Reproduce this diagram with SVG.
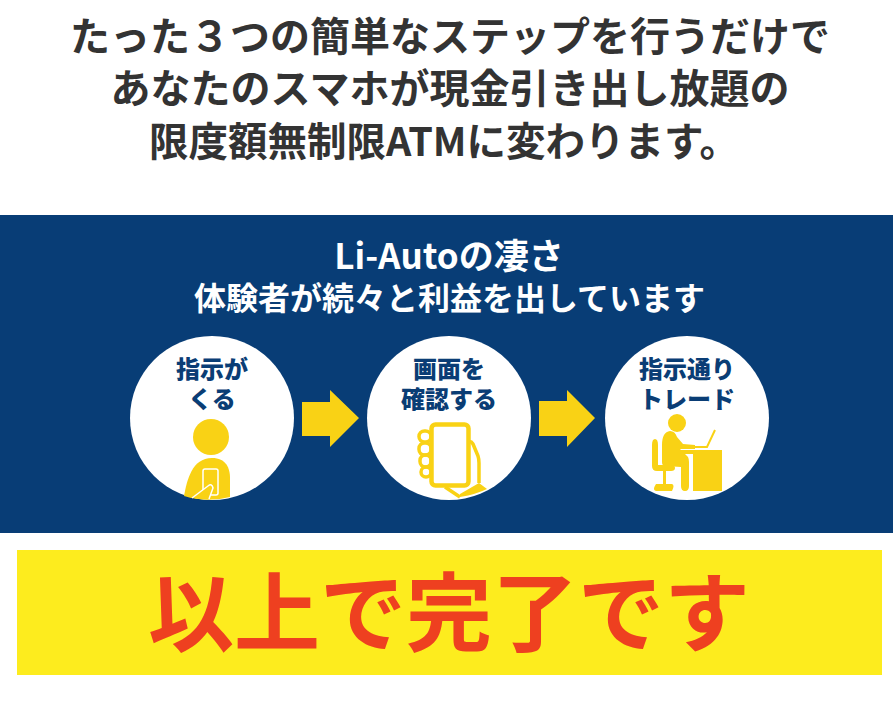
<svg xmlns="http://www.w3.org/2000/svg" width="893" height="710" viewBox="0 0 893 710">
<style>
.h{font-family:"Noto Sans CJK JP","Noto Sans",sans-serif;font-weight:700;font-size:40px;fill:#333;text-anchor:middle}
.w{font-family:"Noto Sans CJK JP","Noto Sans",sans-serif;font-weight:700;font-size:32px;fill:#fff;text-anchor:middle}
.c{font-family:"Noto Sans CJK JP","Noto Sans",sans-serif;font-weight:900;font-size:24px;fill:#0a3d75;text-anchor:middle}
.y{fill:#f9d215}
.n{fill:none;stroke:#f9d215;stroke-width:3.5;stroke-linejoin:round}
</style>
<rect width="893" height="710" fill="#fff"/>
<g id="heading">
<text class="h" x="450" y="51">たった３つの簡単なステップを行うだけで</text>
<text class="h" x="450" y="103">あなたのスマホが現金引き出し放題の</text>
<text class="h" x="444" y="156" style="font-size:39.5px">限度額無制限ATMに変わります。</text>
</g>
<rect id="band" x="0" y="215" width="893" height="318" fill="#083d76"/>
<g id="band-title">
<text class="w" x="449" y="269" style="font-size:35px">Li-Autoの凄さ</text>
<text class="w" x="449.500" y="310">体験者が続々と利益を出しています</text>
</g>
<g id="step1">
<circle cx="212" cy="418" r="82" fill="#fff"/>
<text class="c" x="212" y="378">指示が</text>
<text class="c" x="212" y="408">くる</text>
<circle class="y" cx="211" cy="437" r="18"/>
<path class="y" d="M184 496C187 480 192 458 212 458C226 458 230 468 230 478V497Q207 503 184 496Z"/>
<rect x="203" y="469" width="15" height="26" rx="2" fill="none" stroke="#fff" stroke-width="1.500"/>
<path d="M192 498L208 486Q212 483 213 488L209 499" fill="#f9d215" stroke="#fff" stroke-width="1.500"/>
</g>
<g id="step2">
<circle cx="449" cy="418" r="82" fill="#fff"/>
<text class="c" x="449" y="378">画面を</text>
<text class="c" x="449" y="408">確認する</text>
<path class="y" d="M460 497Q477 494 487 489L479 483L460 494Z"/>
<path class="n" d="M445 487L460 497M466 444Q470 439 473 444L478 456Q479 459 479 463V483"/>
<g class="n">
<rect x="419" y="431" width="12" height="11" rx="5.500"/>
<rect x="419" y="443" width="12" height="12" rx="5.500"/>
<rect x="420" y="455" width="11" height="12" rx="5.500"/>
<rect x="421" y="467" width="10" height="10" rx="5"/>
<rect x="431.500" y="424.500" width="37" height="61" rx="4" fill="#fff" style="stroke-width:4.500"/>
</g>
</g>
<g id="step3">
<circle cx="687" cy="418" r="82" fill="#fff"/>
<text class="c" x="687" y="378">指示通り</text>
<text class="c" x="687" y="408">トレード</text>
<circle class="y" cx="677" cy="423" r="9"/>
<path class="y" d="M662 445Q662 432 670 431Q675 431 677 437L683 444L695 445V449L680 449L688 457Q689 459 689 462V486Q689 491 685 491Q681 491 681 486V467L665 466Q662 466 662 462Z"/>
<path class="y" d="M652 445Q652 439 655 439Q658 439 658 445V465H671Q675 465 675 468Q675 471 671 471H666V484H672Q675 485 672 491H656Q652 490 656 484H663V471H657Q652 471 652 466Z"/>
<path class="y" d="M678 450H722V491H693V454H678Z"/>
<path fill="none" stroke="#f9d215" stroke-width="2" d="M695 447H707L715 430"/>
</g>
<g id="connectors">
<path class="y" d="M302 402H330V390L359 418L330 447V436H302Z"/>
<path class="y" d="M539 401H567V390L595 418L567 447V436H539Z"/>
</g>
<g id="banner">
<rect x="17" y="550" width="865" height="125" fill="#fdec1e"/>
<text x="449" y="645" font-family="&quot;Noto Sans CJK JP&quot;,sans-serif" font-weight="700" font-size="86" fill="#ee4020" text-anchor="middle">以上で完了です</text>
</g>
</svg>
